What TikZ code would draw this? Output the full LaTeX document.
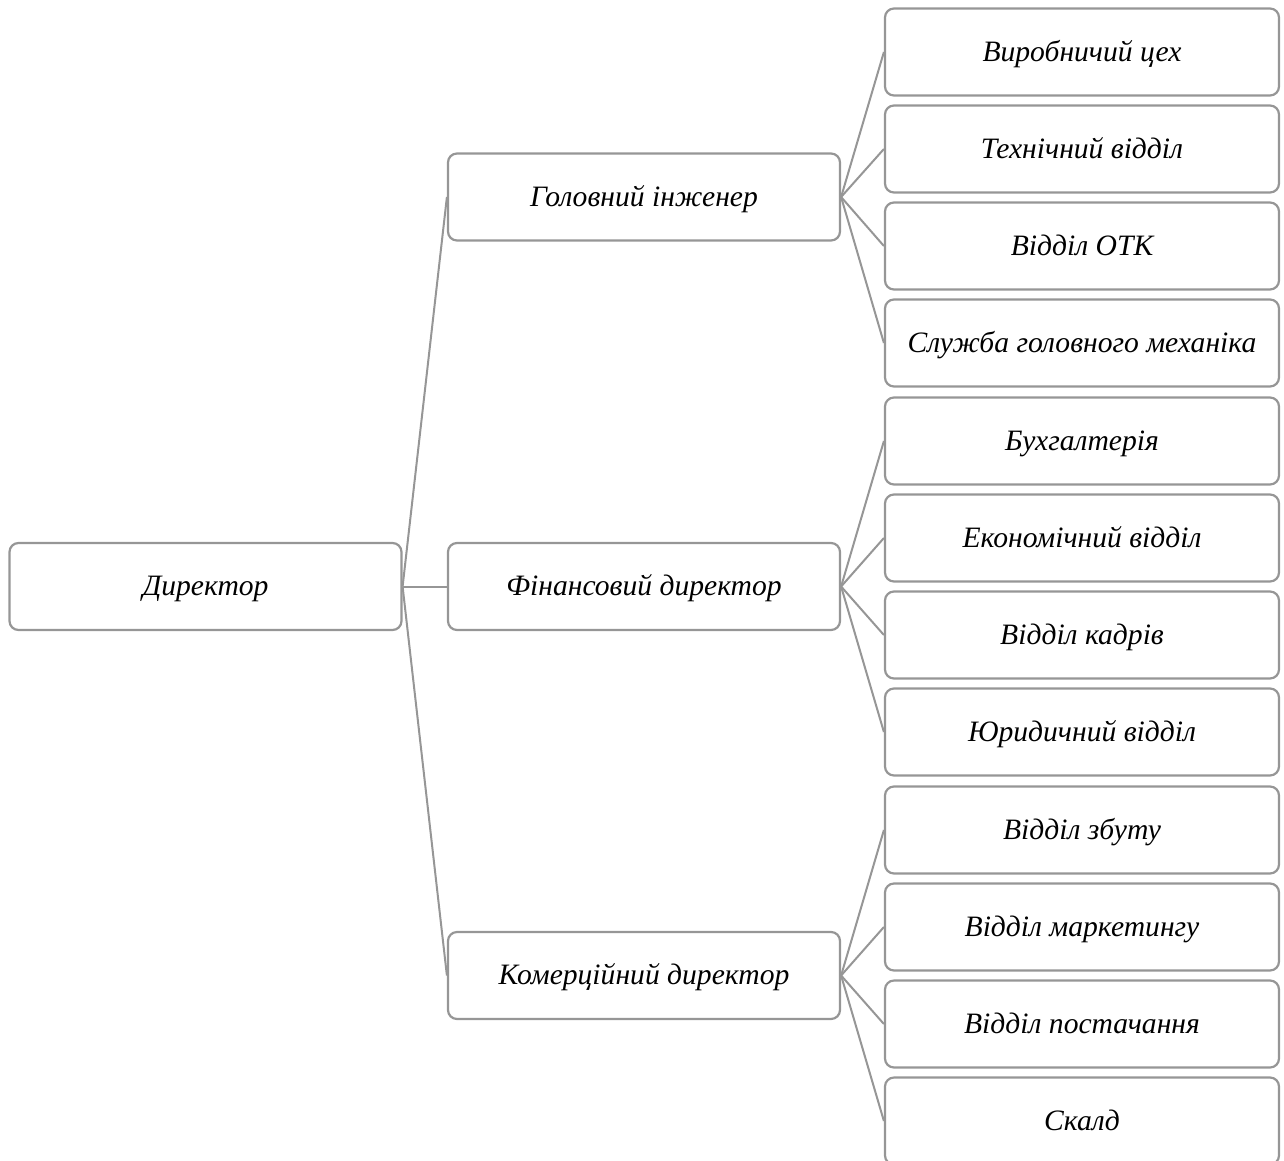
\documentclass[tikz,border=0pt]{standalone}
\usepackage{fontspec}
\setmainfont{Liberation Serif}
\definecolor{edge}{RGB}{150,150,150}
\begin{document}
\begin{tikzpicture}[x=1pt,y=-1pt,
  box/.style={draw=edge,line width=2.2pt,rounded corners=9pt,fill=white,
    minimum width=392pt,minimum height=87pt,inner sep=0pt,
    text height=20pt,text depth=2pt,
    font=\fontsize{29.6}{34}\selectfont\itshape},
  link/.style={draw=edge,line width=2pt}]
\useasboundingbox (0,0) rectangle (1284,1160);
\clip (0,0) rectangle (1284,1160);
\node[box] (dir) at (205.5,586.5) {Директор};
\node[box] (gi) at (644,197) {Головний інженер};
\node[box] (fd) at (644,586.5) {Фінансовий директор};
\node[box] (kd) at (644,975.5) {Комерційний директор};
\foreach \n/\y/\t in {a1/52/Виробничий цех, a2/149/Технічний відділ, a3/246/Відділ ОТК, a4/343/Служба головного механіка}
  {\node[box,minimum width=394pt] (\n) at (1082,\y) {\t};}
\foreach \n/\y/\t in {b1/441/Бухгалтерія, b2/538/Економічний відділ, b3/635/Відділ кадрів, b4/732/Юридичний відділ}
  {\node[box,minimum width=394pt] (\n) at (1082,\y) {\t};}
\foreach \n/\y/\t in {c1/830/Відділ збуту, c2/927/Відділ маркетингу, c3/1024/Відділ постачання, c4/1121/Скалд}
  {\node[box,minimum width=394pt] (\n) at (1082,\y) {\t};}
\foreach \m in {gi,fd,kd} \draw[link] (dir.east) -- (\m.west);
\foreach \m in {a1,a2,a3,a4} \draw[link] (gi.east) -- (\m.west);
\foreach \m in {b1,b2,b3,b4} \draw[link] (fd.east) -- (\m.west);
\foreach \m in {c1,c2,c3,c4} \draw[link] (kd.east) -- (\m.west);
\end{tikzpicture}
\end{document}
